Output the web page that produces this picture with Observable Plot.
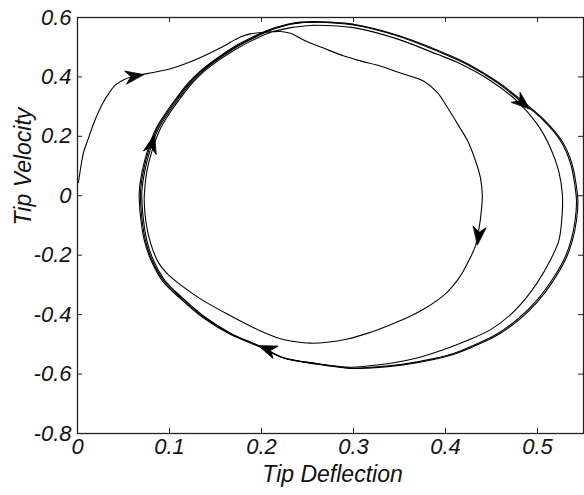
<!DOCTYPE html>
<html>
<head>
<meta charset="utf-8">
<script src="https://cdn.jsdelivr.net/npm/d3@7"></script>
<script src="https://cdn.jsdelivr.net/npm/@observablehq/plot@0.6"></script>
<style>
  html, body { margin: 0; padding: 0; background: #fff; }
  svg { display: block; }
</style>
</head>
<body>
<div id="chart"></div>
<script>
// ---- tick values and labels ----
const xTicks = [0, 0.1, 0.2, 0.3, 0.4, 0.5];
const xTickLabels = ["0", "0.1", "0.2", "0.3", "0.4", "0.5"];
const yTicks = [-0.8, -0.6, -0.4, -0.2, 0, 0.2, 0.4, 0.6];
const yTickLabels = ["-0.8", "-0.6", "-0.4", "-0.2", "0", "0.2", "0.4", "0.6"];
const xTitle = "Tip Deflection";
const yTitle = "Tip Velocity";

// ---- trajectory: transient and first (inner) loop ----
const path1 = [
  [0.001,0.044],[0.0033,0.091],[0.0065,0.145],[0.012,0.195],[0.0196,0.259],[0.027,0.309],
  [0.0337,0.343],[0.0413,0.373],[0.052,0.393],[0.0685,0.407],[0.079,0.413],[0.104,0.430],
  [0.130,0.460],[0.155,0.497],[0.177,0.534],[0.188,0.545],[0.2065,0.551],[0.2207,0.553],
  [0.2315,0.547],[0.248,0.521],[0.2674,0.497],[0.289,0.471],[0.3076,0.454],[0.329,0.437],
  [0.351,0.413],[0.376,0.386],[0.391,0.348],[0.402,0.298],[0.413,0.242],[0.424,0.185],
  [0.4326,0.118],[0.438,0.06],[0.440,0],[0.439,-0.05],[0.436,-0.118],[0.4326,-0.168],
  [0.427,-0.208],[0.4196,-0.252],[0.413,-0.284],[0.402,-0.324],[0.391,-0.352],[0.376,-0.382],
  [0.3587,-0.41],[0.337,-0.438],[0.315,-0.463],[0.2935,-0.482],[0.2717,-0.493],[0.253,-0.496],
  [0.237,-0.491],[0.2207,-0.481],[0.199,-0.455],[0.1627,-0.398],[0.1337,-0.347],[0.112,-0.3],
  [0.0975,-0.262],[0.088,-0.225],[0.0795,-0.16],[0.0745,-0.09],[0.0725,-0.017],[0.073,0.02],
  [0.0755,0.084],[0.081,0.151],[0.0905,0.2286],[0.101,0.282],[0.112,0.329],[0.124,0.3765],
  [0.137,0.4168],[0.153,0.455],[0.172,0.493],[0.19,0.523],[0.208,0.548],[0.232,0.566],
  [0.257,0.574]
];
// ---- second (middle) loop ----
const path2 = [
  [0.257,0.574],[0.3,0.566],[0.3475,0.528],[0.391,0.476],[0.4127,0.449],[0.449,0.387],
  [0.478,0.318],[0.4997,0.241],[0.514,0.162],[0.523,0.084],[0.527,0.006],[0.5268,-0.062],
  [0.5232,-0.151],[0.5136,-0.2185],[0.5005,-0.289],[0.487,-0.346],[0.4707,-0.4],[0.449,-0.4504],
  [0.4236,-0.487],[0.396,-0.52],[0.369,-0.546],[0.342,-0.563],[0.315,-0.573],[0.297,-0.577],
  [0.261,-0.5655],[0.224,-0.5455],[0.2,-0.508],[0.1678,-0.4647],[0.1388,-0.409],[0.1135,-0.342],
  [0.0953,-0.286],[0.0827,-0.218],[0.0754,-0.151],[0.0718,-0.084],[0.07,-0.017],[0.07,0.0168],
  [0.0732,0.084],[0.0787,0.151],[0.0885,0.2286],[0.0993,0.282],[0.1102,0.329],[0.1222,0.3765],
  [0.1352,0.4168],[0.1515,0.457],[0.1711,0.4975],[0.1895,0.528],[0.208,0.5546],[0.233,0.578],
  [0.2565,0.585]
];
// ---- third loop (outer) ----
const path3 = [
  [0.2565,0.585],[0.300,0.575],[0.348,0.538],[0.391,0.487],[0.424,0.441],[0.4565,0.380],
  [0.4815,0.319],[0.505,0.258],[0.525,0.185],[0.536,0.1076],[0.541,0.027],[0.5424,-0.017],
  [0.5408,-0.084],[0.5364,-0.151],[0.5283,-0.218],[0.5152,-0.286],[0.4989,-0.353],[0.4793,-0.413],
  [0.4565,-0.464],[0.435,-0.497],[0.411,-0.528],[0.387,-0.548],[0.351,-0.568],[0.315,-0.578],
  [0.297,-0.58],[0.261,-0.565],[0.224,-0.545],[0.199,-0.508],[0.1663,-0.4647],[0.1373,-0.409],
  [0.112,-0.342],[0.0938,-0.286],[0.0812,-0.218],[0.0739,-0.151],[0.0703,-0.084],[0.0685,-0.017],
  [0.0685,0.0168],[0.0717,0.084],[0.0772,0.151],[0.087,0.2286],[0.0978,0.282],[0.1087,0.329],
  [0.1207,0.3765],[0.1337,0.4168],[0.15,0.457],[0.1696,0.4975],[0.188,0.528],[0.2065,0.5546],
  [0.2315,0.578],[0.2565,0.585]
];
// ---- fourth loop (outer, repeated) ----
const path4 = [
  [0.2565,0.585],[0.300,0.577],[0.348,0.540],[0.392,0.489],[0.425,0.443],[0.4578,0.381],
  [0.483,0.32],[0.5065,0.258],[0.5265,0.185],[0.5375,0.1076],[0.5425,0.027],[0.5439,-0.017],
  [0.5423,-0.084],[0.5379,-0.151],[0.5298,-0.219],[0.5167,-0.288],[0.5004,-0.355],[0.4808,-0.415],
  [0.458,-0.466],[0.4365,-0.499],[0.4125,-0.53],[0.3885,-0.55],[0.352,-0.57],[0.316,-0.58],
  [0.297,-0.581],[0.261,-0.567],[0.224,-0.546],[0.1985,-0.509],[0.1655,-0.4655],[0.1363,-0.41],
  [0.1108,-0.343],[0.0925,-0.287],[0.08,-0.218],[0.0727,-0.151],[0.069,-0.084],[0.0672,-0.017],
  [0.0672,0.0168],[0.0704,0.084],[0.076,0.151],[0.0858,0.2286],[0.0966,0.282],[0.1075,0.329],
  [0.1195,0.3765],[0.1325,0.4168],[0.149,0.457],[0.1686,0.4985],[0.187,0.529],[0.2055,0.5556],
  [0.2305,0.579],[0.2565,0.586],[0.300,0.578]
];

// ---- direction arrows: position and local tangent (data units) ----
const arrowX  = [0.062, 0.081, 0.484, 0.436, 0.206];
const arrowY  = [0.403, 0.175, 0.312, -0.135, -0.516];
const arrowDX = [0.024, 0.012, 0.05, -0.004, -0.025];
const arrowDY = [0.012, 0.14, -0.129, -0.1, 0.03];

// ---- layout ----
const W = 584, H = 495;
const mL = 77, mR = 1, mT = 17, mB = 62;
const xDomain = [0, 0.55], yDomain = [-0.8, 0.6];
const plotW = W - mL - mR, plotH = H - mT - mB;
const kx = plotW / (xDomain[1] - xDomain[0]);
const ky = plotH / (yDomain[1] - yDomain[0]);

const lines = [];
[path1, path2, path3, path4].forEach((p, i) => p.forEach(([x, y]) => lines.push({x, y, s: i})));

const arrows = arrowX.map((x, i) => ({
  x, y: arrowY[i],
  rot: Math.atan2(arrowDX[i] * kx, arrowDY[i] * ky) * 180 / Math.PI
}));

const arrowHead = {
  draw(ctx, l, r) {
    ctx.moveTo(0, -l);
    ctx.lineTo(-r, 0);
    ctx.lineTo(0, -l * 0.3);
    ctx.lineTo(r, 0);
    ctx.closePath();
  }
};

const font = "Liberation Sans, Arial, Helvetica, sans-serif";
const tickFont = {fontFamily: font, fontSize: 22, fontStyle: "italic", fill: "#111"};

const chart = Plot.plot({
  width: W, height: H,
  marginLeft: mL, marginRight: mR, marginTop: mT, marginBottom: mB,
  x: {domain: xDomain, axis: null},
  y: {domain: yDomain, axis: null},
  style: {background: "#fff"},
  marks: [
    Plot.line(lines, {x: "x", y: "y", z: "s", curve: "catmull-rom", stroke: "#000", strokeWidth: 1.1}),
    Plot.vector(arrows, {x: "x", y: "y", rotate: "rot", length: 18, r: 6.5, anchor: "middle",
      shape: arrowHead, fill: "#000", stroke: "#000", strokeWidth: 0.8}),
    // inward tick marks on all four sides
    Plot.tickX(xTicks.slice(1), {x: d => d, insetTop: plotH - 5, stroke: "#222"}),
    Plot.tickX(xTicks.slice(1), {x: d => d, insetBottom: plotH - 5, stroke: "#222"}),
    Plot.tickY(yTicks.slice(1, -1), {y: d => d, insetRight: plotW - 5, stroke: "#222"}),
    Plot.tickY(yTicks.slice(1, -1), {y: d => d, insetLeft: plotW - 5, stroke: "#222"}),
    Plot.frame({stroke: "#222", strokeWidth: 1.3}),
    // tick labels
    Plot.text(xTicks, {x: d => d, text: (d, i) => xTickLabels[i], frameAnchor: "bottom",
      dy: 20, ...tickFont}),
    Plot.text(yTicks, {y: d => d, text: (d, i) => yTickLabels[i], frameAnchor: "left",
      dx: -6, textAnchor: "end", ...tickFont}),
    // axis titles
    Plot.text([xTitle], {text: d => d, frameAnchor: "bottom", dy: 48, dx: 2,
      fontFamily: font, fontSize: 23, fontStyle: "italic", fill: "#111"}),
    Plot.text([yTitle], {text: d => d, frameAnchor: "left", dx: -54, rotate: -90,
      fontFamily: font, fontSize: 23, fontStyle: "italic", fill: "#111"})
  ]
});
document.getElementById("chart").appendChild(chart);
</script>
</body>
</html>
